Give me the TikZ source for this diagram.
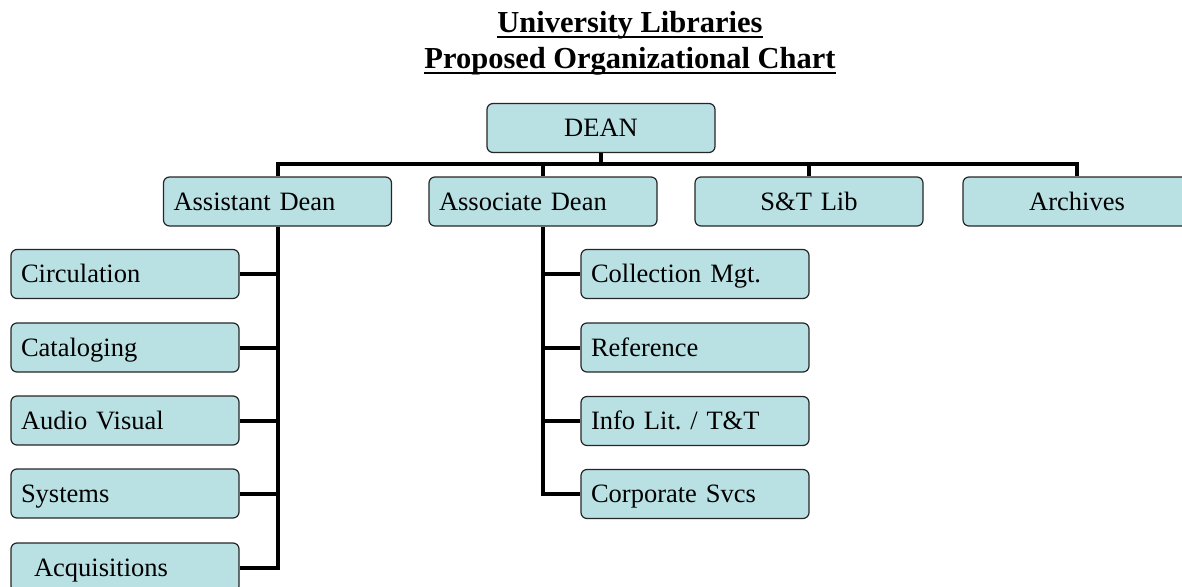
\documentclass[tikz,border=0pt]{standalone}
\usepackage{fontspec}
\setmainfont{Liberation Serif}
\usetikzlibrary{calc,backgrounds}
\definecolor{boxfill}{RGB}{185,224,227}
\frenchspacing
\tikzset{
	unit/.style={draw=black!85, line width=1.2pt, rounded corners=6pt, fill=boxfill, minimum height=49pt, text width=208pt, text height=17pt, text depth=0pt, inner xsep=10pt, inner ysep=0pt, font=\fontsize{26.5}{30}\selectfont},
	unitl/.style={unit, align=left},
	unitc/.style={unit, align=center},
	conn/.style={line width=4pt, black},
	heading/.style={inner sep=0pt, anchor=base, font=\fontsize{30.5}{34}\selectfont\bfseries},
}

\begin{document}
\begin{tikzpicture}[x=1pt, y=-1pt]
			%%%%% START %%%%%
			
			\useasboundingbox (0, 0) rectangle (1182, 586);
			\clip (0, 0) rectangle (1182, 586);
			
			\node[heading] (title) at (630, 33) {University Libraries};
			\node[heading] (subtitle) at (630, 68) {Proposed Organizational Chart};
			\draw[line width=2pt] ($(title.base west)+(0, 4)$) -- ($(title.base east)+(0, 4)$);
			\draw[line width=2pt] ($(subtitle.base west)+(0, 5)$) -- ($(subtitle.base east)+(0, 5)$);
			
			\node[unitc] (dean) at (601, 128) {DEAN};
			
			\node[unitl] (asst) at (277.5, 201.5) {Assistant Dean};
			\node[unitl] (assoc) at (543, 201.5) {Associate Dean};
			\node[unitc] (stlib) at (809, 201.5) {S\&T Lib};
			\node[unitc] (arch) at (1077, 201.5) {Archives};
			\coordinate (bus) at (0, 164);
			
			\node[unitl] (circ) at (125, 274) {Circulation};
			\node[unitl] (catal) at (125, 347.5) {Cataloging};
			\node[unitl] (av) at (125, 420.5) {Audio Visual};
			\node[unitl] (sys) at (125, 493.5) {Systems};
			\node[unitl] (acq) at (125, 567.5) {\hspace*{13pt}Acquisitions};
			
			\node[unitl] (coll) at (695, 274) {Collection Mgt.};
			\node[unitl] (ref) at (695, 347.5) {Reference};
			\node[unitl] (info) at (695, 421) {Info Lit. / T\&T};
			\node[unitl] (corp) at (695, 494) {Corporate Svcs};
			
			\begin{scope}[on background layer]
			% top bus
			\draw[conn] (dean.south) -- (dean.south |- bus);
			\draw[conn] (asst.north) |- (arch.north |- bus) -- (arch.north);
			\draw[conn] (assoc.north) -- (assoc.north |- bus);
			\draw[conn] (stlib.north) -- (stlib.north |- bus);
			
			% assistant dean branch
			\draw[conn] (asst.south) |- (acq.east);
			\foreach \u in {circ, catal, av, sys}
				\draw[conn] (\u.east) -- (\u.east -| asst.south);
			
			% associate dean branch
			\draw[conn] (assoc.south) |- (corp.west);
			\foreach \u in {coll, ref, info}
				\draw[conn] (\u.west) -- (\u.west -| assoc.south);
			\end{scope}
			
			%%%%% END %%%%%
\end{tikzpicture}
\end{document}
